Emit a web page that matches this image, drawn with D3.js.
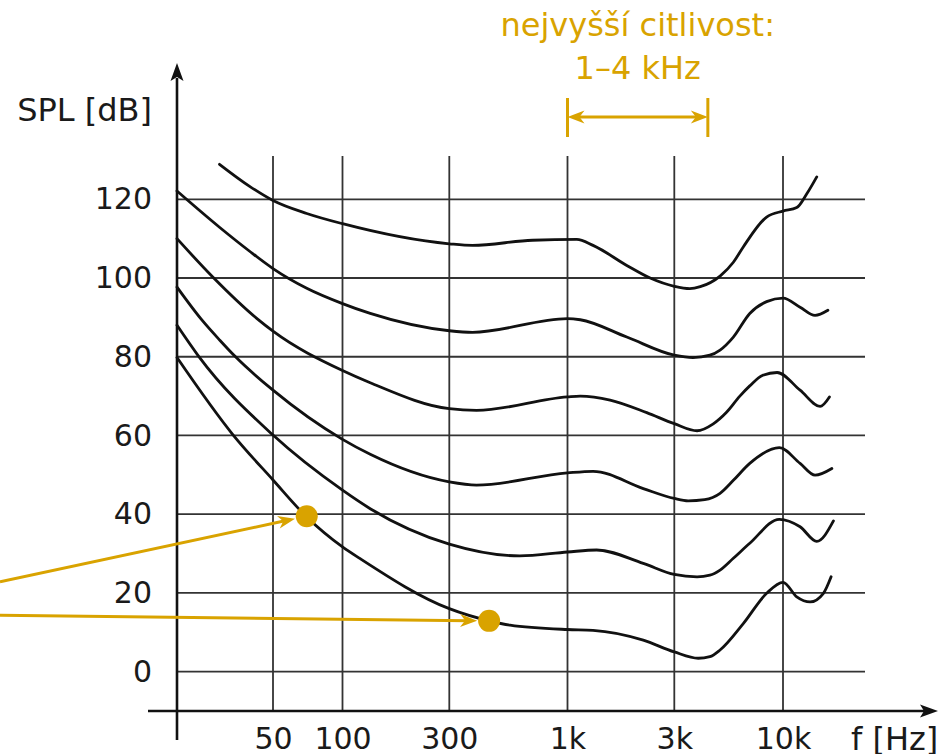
<!DOCTYPE html>
<html>
<head>
<meta charset="utf-8">
<script src="https://cdn.jsdelivr.net/npm/d3@7"></script>
<style>
  body { margin: 0; background: #fff; }
  svg text { font-family: "DejaVu Sans", Verdana, sans-serif; fill: #1a1a1a; }
</style>
</head>
<body>
<div id="chart"></div>
<script>
// axis ticks
var freqTicks = [50, 100, 300, 1000, 3000, 10000];
var freqLabels = ["50", "100", "300", "1k", "3k", "10k"];
var splTicks = [0, 20, 40, 60, 80, 100, 120];

// equal loudness contours, [f in Hz, SPL in dB]
var curve1 = [[30,128.9],[40,123.3],[50,119.7],[70,116.4],[100,113.8],[300,108.7],[380,108.3],[700,109.6],[1100,109.8],[1300,108.3],[1840,103.2],[2340,100.0],[3000,97.9],[3560,97.3],[4000,97.8],[4980,100.5],[5770,104.0],[6440,107.9],[8340,115.5],[10000,117.0],[11550,117.9],[12830,121.4],[14240,125.7]];
var curve2 = [[20,122.1],[30,112.9],[40,106.8],[50,102.4],[70,97.4],[100,93.5],[133,91.0],[300,86.6],[380,86.2],[1000,89.7],[1140,89.4],[1840,85.0],[3000,80.4],[3690,79.8],[4450,80.4],[4980,81.7],[5770,85.0],[6920,91.0],[8340,94.0],[10000,94.9],[11960,92.6],[13990,90.5],[16000,91.8]];
var curve3 = [[20,110.0],[28.2,100.2],[43.3,89.5],[50,86.5],[100,76.5],[133,73.4],[300,66.8],[396,66.4],[1000,69.8],[1140,70.0],[1550,69.0],[2260,65.8],[3000,63.0],[3860,61.2],[4600,62.9],[5350,65.9],[6200,70.0],[6920,72.6],[8000,75.3],[9370,76.0],[11960,71.5],[14750,67.4],[16260,69.8]];
var curve4 = [[20,97.7],[25.4,89.3],[30.1,84.2],[34.8,80.1],[50,71.5],[100,59.0],[133,55.2],[300,48.2],[396,47.4],[1000,50.5],[1300,50.9],[2180,46.5],[3000,44.0],[3500,43.4],[4200,43.7],[4980,45.3],[5770,48.6],[6920,52.9],[9600,56.9],[11960,52.9],[13990,49.9],[16680,51.6]];
var curve5 = [[20,88.0],[24.6,80.1],[50,60.1],[100,46.1],[133,41.4],[300,32.4],[615,29.4],[1000,30.4],[1350,30.9],[2180,27.5],[3000,24.7],[3860,24.1],[4450,24.5],[4980,25.8],[5770,28.8],[6920,32.6],[9600,38.7],[11960,36.8],[14240,33.1],[16960,38.3]];
var curve6 = [[20,79.8],[34.2,60.1],[50,48.7],[70,39.3],[100,31.7],[120,28.7],[300,16.0],[450,12.9],[557,11.8],[1000,10.7],[1300,10.5],[2180,8.0],[3000,5.0],[3910,3.4],[4450,3.8],[4980,5.5],[6440,12.2],[8340,19.9],[10000,22.7],[11550,19.0],[13280,17.7],[15270,19.9],[16550,24.1]];
var curves = [curve1, curve2, curve3, curve4, curve5, curve6];

// marked points on the threshold curve and where their arrows come from (dB at left edge)
var markedPoints = [[70, 39.5], [450, 12.9]];
var arrowStartSpl = [22.8, 14.3];

// range of highest sensitivity
var sensitiveRange = [1000, 4350];
var sensitiveText = ["nejvyšší citlivost:", "1–4 kHz"];

var width = 941, height = 754;
var gold = "#d9a300";

var svg = d3.select("#chart").append("svg")
  .attr("width", width)
  .attr("height", height);

var x = d3.scaleLog()
  .domain([20, 50, 100, 300, 1000, 3000, 10000, 23600])
  .range([177, 273, 342.5, 449.3, 567.5, 674.3, 783, 865]);

var y = d3.scaleLinear()
  .domain([-10, 131])
  .range([711, 156]);

var x0 = x(20), xEnd = x(23600), yBase = y(-10), yTop = y(131);

var defs = svg.append("defs");
// notched arrow head, tip at (9,0)
defs.append("marker")
  .attr("id", "goldHead")
  .attr("markerUnits", "userSpaceOnUse")
  .attr("viewBox", "-10 -8 20 16")
  .attr("markerWidth", 20).attr("markerHeight", 16)
  .attr("refX", 0).attr("refY", 0)
  .attr("orient", "auto-start-reverse")
  .append("path")
  .attr("d", "M9,0 L-8,-6.5 L-3,0 L-8,6.5 Z")
  .attr("fill", gold);

// grid
svg.append("g").selectAll("line")
  .data(splTicks)
  .enter().append("line")
  .attr("x1", x0).attr("x2", xEnd)
  .attr("y1", function(d) { return y(d); })
  .attr("y2", function(d) { return y(d); })
  .attr("stroke", "#333").attr("stroke-width", 1.8);

svg.append("g").selectAll("line")
  .data(freqTicks)
  .enter().append("line")
  .attr("x1", function(d) { return x(d); })
  .attr("x2", function(d) { return x(d); })
  .attr("y1", yTop).attr("y2", yBase)
  .attr("stroke", "#333").attr("stroke-width", 1.8);

// axes lines with arrows
svg.append("line")
  .attr("x1", x0).attr("x2", x0)
  .attr("y1", 740).attr("y2", 78)
  .attr("stroke", "#111").attr("stroke-width", 2.6);
svg.append("path")
  .attr("d", "M" + x0 + ",63 L" + (x0 - 6.5) + ",81 L" + x0 + ",77 L" + (x0 + 6.5) + ",81 Z")
  .attr("fill", "#111");

svg.append("line")
  .attr("x1", 148).attr("x2", 924)
  .attr("y1", yBase).attr("y2", yBase)
  .attr("stroke", "#111").attr("stroke-width", 2.6);
svg.append("path")
  .attr("d", "M938," + yBase + " L920," + (yBase - 6.5) + " L924," + yBase + " L920," + (yBase + 6.5) + " Z")
  .attr("fill", "#111");

// tick labels
var yAxis = svg.append("g")
  .attr("transform", "translate(" + x0 + ",0)")
  .call(d3.axisLeft(y).tickValues(splTicks).tickSize(0).tickPadding(25));
yAxis.select(".domain").remove();
yAxis.selectAll("text").style("font-size", "30px").attr("fill", "#1a1a1a")
  .attr("font-family", "DejaVu Sans");

var xAxis = svg.append("g")
  .attr("transform", "translate(0," + yBase + ")")
  .call(d3.axisBottom(x).tickValues(freqTicks)
    .tickFormat(function(d, i) { return freqLabels[i]; })
    .tickSize(0).tickPadding(17));
xAxis.select(".domain").remove();
xAxis.selectAll("text").style("font-size", "30px").attr("fill", "#1a1a1a")
  .attr("font-family", "DejaVu Sans");

svg.append("text")
  .attr("x", 152).attr("y", 121)
  .attr("text-anchor", "end")
  .style("font-size", "32px")
  .text("SPL [dB]");

svg.append("text")
  .attr("x", 851).attr("y", yBase + 39)
  .style("font-size", "32px")
  .text("f [Hz]");

// contours
var line = d3.line()
  .x(function(d) { return x(d[0]); })
  .y(function(d) { return y(d[1]); })
  .curve(d3.curveMonotoneX);

svg.append("g").selectAll("path")
  .data(curves)
  .enter().append("path")
  .attr("d", line)
  .attr("fill", "none")
  .attr("stroke", "#111")
  .attr("stroke-width", 2.8)
  .attr("stroke-linecap", "round");

// arrows to marked points
markedPoints.forEach(function(p, i) {
  var cx = x(p[0]), cy = y(p[1]);
  var sx = 0, sy = y(arrowStartSpl[i]);
  var dx = cx - sx, dy = cy - sy, len = Math.sqrt(dx * dx + dy * dy);
  var back = 12 + 9; // radius + gap + head tip offset
  svg.append("line")
    .attr("x1", sx).attr("y1", sy)
    .attr("x2", cx - dx / len * back).attr("y2", cy - dy / len * back)
    .attr("stroke", gold).attr("stroke-width", 3)
    .attr("marker-end", "url(#goldHead)");
});

svg.append("g").selectAll("circle")
  .data(markedPoints)
  .enter().append("circle")
  .attr("cx", function(d) { return x(d[0]); })
  .attr("cy", function(d) { return y(d[1]); })
  .attr("r", 11)
  .attr("fill", gold);

// sensitivity range annotation
var ax1 = x(sensitiveRange[0]), ax2 = x(sensitiveRange[1]);
var ay = 117;
svg.append("line")
  .attr("x1", ax1 + 9).attr("x2", ax2 - 9)
  .attr("y1", ay).attr("y2", ay)
  .attr("stroke", gold).attr("stroke-width", 3)
  .attr("marker-start", "url(#goldHead)")
  .attr("marker-end", "url(#goldHead)");
[ax1, ax2].forEach(function(bx) {
  svg.append("line")
    .attr("x1", bx).attr("x2", bx)
    .attr("y1", 98).attr("y2", 137)
    .attr("stroke", gold).attr("stroke-width", 3);
});

svg.append("g").selectAll("text")
  .data(sensitiveText)
  .enter().append("text")
  .attr("x", (ax1 + ax2) / 2)
  .attr("y", function(d, i) { return 36 + i * 43; })
  .attr("text-anchor", "middle")
  .style("font-size", "32px")
  .style("fill", gold)
  .text(function(d) { return d; });
</script>
</body>
</html>
